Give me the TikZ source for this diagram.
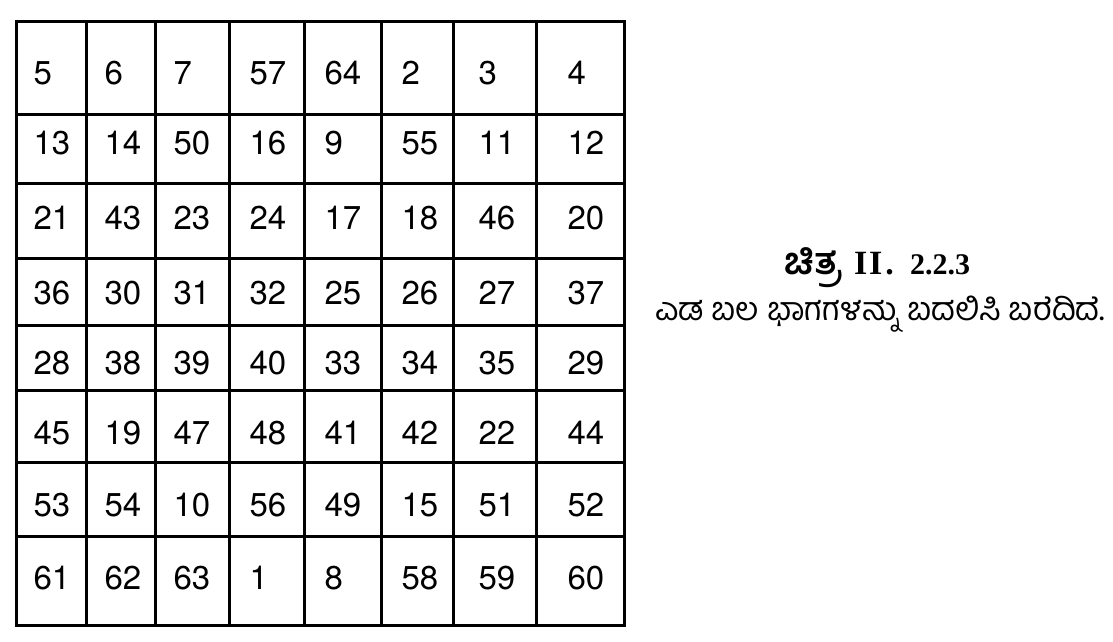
\documentclass[tikz,border=0pt]{standalone}
\usepackage{fontspec}
\setmainfont{TeX Gyre Heros}
\newfontfamily\kannada[Script=Kannada]{Hind Mysuru}
\newfontfamily\romanbold{Liberation Serif}

\begin{document}
\begin{tikzpicture}[x=1pt,y=1pt,line width=3pt,
    num/.style={anchor=west,inner sep=0pt,font=\fontsize{33}{36}\selectfont},
    caption/.style={anchor=base,inner sep=0pt}]
          \useasboundingbox (0,0) rectangle (1113,642);
          % grid lines
          \foreach \x in {86,155,229,304,381,453,536}
            \draw (\x,620) -- (\x,16);
          \foreach \y in {527,458,383,316,251,179,105}
            \draw (16,\y) -- (624,\y);
          \draw (16,16) rectangle (624,620);
          % numbers, row by row
          \foreach \y/\row [count=\r] in {569/{5,6,7,57,64,2,3,4},
                                          499/{13,14,50,16,9,55,11,12},
                                          424/{21,43,23,24,17,18,46,20},
                                          349/{36,30,31,32,25,26,27,37},
                                          279/{28,38,39,40,33,34,35,29},
                                          209/{45,19,47,48,41,42,22,44},
                                          137/{53,54,10,56,49,15,51,52},
                                          64/{61,62,63,1,8,58,59,60}}
            \foreach \n [count=\c] in \row {
              \pgfmathsetmacro\cx{{32,103,172,248,323,400,477,566}[\c-1]}
              \node[num] (n\r-\c) at (\cx,\y) {\n};
            }
          \node[caption] (title) at (877,367) {{\kannada\bfseries\fontsize{37}{40}\selectfont ಚಿತ್ರ}\hspace{12pt}{\romanbold\bfseries\fontsize{34}{36}\selectfont I\kern2pt I\kern3pt.}\hspace{16pt}{\romanbold\bfseries\fontsize{30}{32}\selectfont 2.2.3}};
          \node[caption] (text) at (880,321) {\kannada\fontsize{32.4}{36}\selectfont ಎಡ ಬಲ ಭಾಗಗಳನ್ನು ಬದಲಿಸಿ ಬರೆದಿದೆ.};
        \end{tikzpicture}
\end{document}
